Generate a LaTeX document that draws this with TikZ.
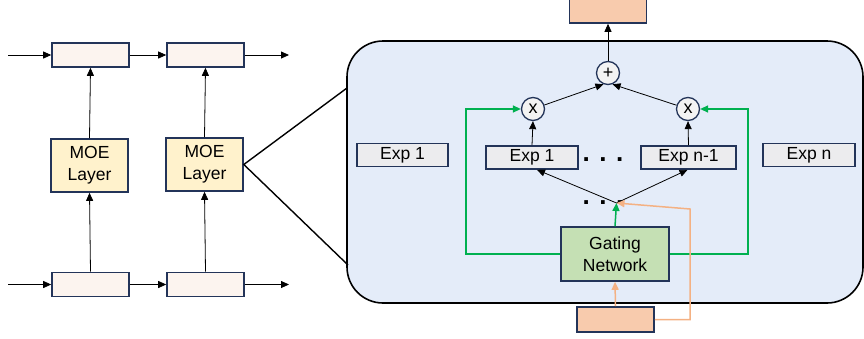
\documentclass[tikz,border=0pt]{standalone}
\usepackage{fontspec}
\setmainfont{Liberation Sans}
\usetikzlibrary{arrows.meta}
\definecolor{navy}{RGB}{35,52,89}
\definecolor{seqfill}{RGB}{252,244,239}
\definecolor{moefill}{RGB}{255,242,204}
\definecolor{panelfill}{RGB}{228,236,249}
\definecolor{expfill}{RGB}{236,236,238}
\definecolor{peach}{RGB}{248,203,173}
\definecolor{gatefill}{RGB}{197,224,180}
\definecolor{gline}{RGB}{0,176,80}
\definecolor{oline}{RGB}{244,177,131}
\definecolor{circfill}{RGB}{243,243,243}
\begin{document}
\begin{tikzpicture}[x=1pt,y=-1pt,
  box/.style={draw=navy, line width=1.6pt, inner sep=0pt, font=\fontsize{17.5}{22}\selectfont, align=center},
  seqbox/.style={box, fill=seqfill, minimum width=77pt, minimum height=24pt},
  moebox/.style={box, fill=moefill, minimum width=77pt, minimum height=53pt},
  expbox/.style={box, fill=expfill, minimum height=23pt},
  peachbox/.style={box, fill=peach, minimum width=77pt},
  multnode/.style={circle, draw=navy, line width=1.3pt, fill=circfill, minimum size=23pt, inner sep=0pt, font=\fontsize{18}{18}\selectfont},
  arr/.style={-{Triangle[length=8pt,width=7pt]}, line width=0.8pt},
  garr/.style={arr, draw=gline, line width=1.5pt},
  oarr/.style={arr, draw=oline, line width=1.5pt},
  dotsnode/.style={font=\fontsize{26}{26}\selectfont\bfseries, inner sep=0pt},
  zoomline/.style={line width=1.4pt}
]
\useasboundingbox (0,0) rectangle (864,338);
\clip (0,0) rectangle (864,338);

% left stack
\node[seqbox] (t1) at (90.5,55) {};
\node[seqbox] (t2) at (205.5,55) {};
\node[moebox] (m1) at (89.5,165.5) {MOE\\Layer};
\node[moebox] (m2) at (204.5,164.5) {MOE\\Layer};
\node[seqbox] (b1) at (90.5,284.5) {};
\node[seqbox] (b2) at (205.5,284.5) {};
\coordinate (tin) at (8,55);
\coordinate (tout) at (289,55);
\coordinate (bin) at (8,284.5);
\coordinate (bout) at (289,284.5);
\draw[arr] (tin) -- (t1);
\draw[arr] (t1) -- (t2);
\draw[arr] (t2) -- (tout);
\draw[arr] (bin) -- (b1);
\draw[arr] (b1) -- (b2);
\draw[arr] (b2) -- (bout);
\draw[arr] (b1.north) -- (m1.south);
\draw[arr] (m1.north) -- (t1.south);
\draw[arr] (b2.north) -- (m2.south);
\draw[arr] (m2.north) -- (t2.south);

% panel
\node[draw=black, line width=1.6pt, fill=panelfill, rounded corners=36pt,
      minimum width=516pt, minimum height=262pt, inner sep=0pt] (panel) at (605,172) {};
\coordinate (zt) at (347,88);
\coordinate (zb) at (348,265);
\draw[zoomline] (zt) -- (m2.east) -- (zb);

% experts
\node[expbox, minimum width=91pt] (e1l) at (402.5,155) {Exp 1};
\node[expbox, minimum width=92pt] (e1) at (532,157.5) {Exp 1};
\node[expbox, minimum width=95pt] (en1) at (688.5,157.5) {Exp n-1};
\node[expbox, minimum width=92pt] (en) at (809,155) {Exp n};
\node[dotsnode] (dots1) at (603,160) {. . .};

% combine
\node[multnode] (plus) at (608,73) {+};
\node[multnode] (xl) at (533,109) {x};
\node[multnode] (xr) at (688,109) {x};
\node[peachbox, minimum height=32pt] (out) at (608,7) {};
\draw[arr] (plus.north) -- (out.south);
\draw[arr] (xl) -- (plus.-112);
\draw[arr] (xr) -- (plus.-68);
\draw[arr] (e1.north) -- (xl.south);
\draw[arr] (en1.north) -- (xr.south);

% gating
\node[box, fill=gatefill, minimum width=108pt, minimum height=54pt] (gate) at (615,254) {Gating\\Network};
\node[peachbox, minimum height=25pt] (inp) at (615.5,319.5) {};
\node[dotsnode] (dots2) at (603,203) {. . .};
\coordinate (split) at (616.5,203);
\draw[arr] (split) -- ([xshift=5pt]e1.south);
\draw[arr] (split) -- ([xshift=-1pt]en1.south);
\draw[garr] (gate.north) -- (split);
\coordinate (gl) at (466,109);
\coordinate (gr) at (748,109);
\draw[garr] (gate.west) -| (gl) -- (xl);
\draw[garr] (gate.east) -| (gr) -- (xr);
\draw[oarr] (inp.north) -- (gate.south);
\coordinate (ocorner) at (690,209);
\draw[oarr] (inp.east) -| (ocorner) -- (split);
\end{tikzpicture}
\end{document}
